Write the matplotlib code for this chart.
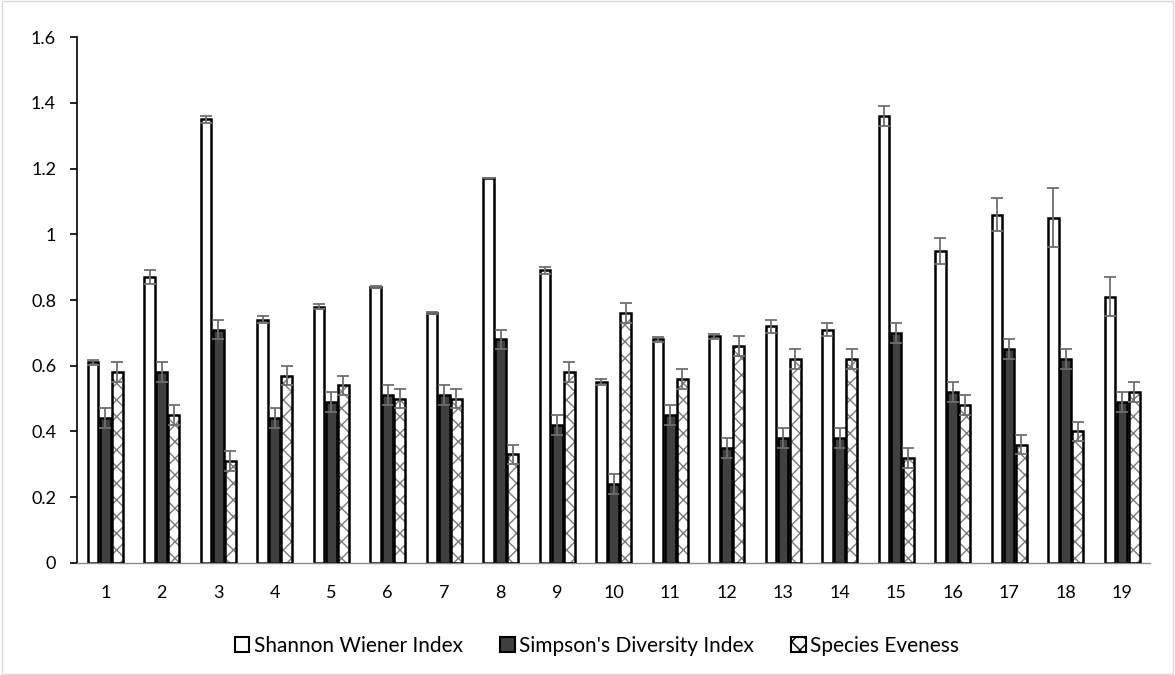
import numpy as np
import matplotlib.pyplot as plt
from matplotlib.patches import Patch, Rectangle

# ======================================================
# Data
# ======================================================

sites = [str(i) for i in range(1, 20)]

shannon = [0.61, 0.87, 1.35, 0.74, 0.78, 0.84, 0.76, 1.17, 0.89, 0.55,
           0.68, 0.69, 0.72, 0.71, 1.36, 0.95, 1.06, 1.05, 0.81]
shannonErr = [0.007, 0.02, 0.01, 0.01, 0.008, 0.004, 0.004, 0.0, 0.01, 0.01,
              0.008, 0.008, 0.02, 0.02, 0.03, 0.04, 0.05, 0.09, 0.06]

simpson = [0.44, 0.58, 0.71, 0.44, 0.49, 0.51, 0.51, 0.68, 0.42, 0.24,
           0.45, 0.35, 0.38, 0.38, 0.70, 0.52, 0.65, 0.62, 0.49]
simpsonErr = [0.03] * 19

evenness = [0.58, 0.45, 0.31, 0.57, 0.54, 0.50, 0.50, 0.33, 0.58, 0.76,
            0.56, 0.66, 0.62, 0.62, 0.32, 0.48, 0.36, 0.40, 0.52]
evennessErr = [0.03] * 19

yTicks = [0, 0.2, 0.4, 0.6, 0.8, 1, 1.2, 1.4, 1.6]
yTickLabels = ["0", "0.2", "0.4", "0.6", "0.8", "1", "1.2", "1.4", "1.6"]

labels = ["Shannon Wiener Index", "Simpson's Diversity Index", "Species Eveness"]


# ======================================================
# Figure
# ======================================================

plt.rcParams['font.family'] = ['Lato', 'DejaVu Sans']
plt.rcParams['hatch.linewidth'] = 1.0

fig = plt.figure(figsize=(11.75, 6.75), dpi=100)
ax = fig.add_axes([0.0655, 0.166, 0.9135, 0.779])

x = np.arange(len(sites))
w = 0.19
step = 0.215
errKw = dict(ecolor="#6e6e6e", elinewidth=1.3, capsize=4.5, capthick=1.3)

ax.bar(x - step, shannon, w, color="white", edgecolor="black", linewidth=1.8,
       yerr=shannonErr, error_kw=errKw, zorder=2)

ax.bar(x, simpson, w, color="#404040", edgecolor="black", linewidth=1.8,
       yerr=simpsonErr, error_kw=errKw, zorder=2)

# hatch drawn in grey first, black outline on top
ax.bar(x + step, evenness, w, color="white", edgecolor="#7a7a7a", linewidth=0,
       hatch="xx", zorder=2)
ax.bar(x + step, evenness, w, color="none", edgecolor="black", linewidth=1.8,
       yerr=evennessErr, error_kw=errKw, zorder=3)

ax.set_ylim(0, 1.6)
ax.set_xlim(-0.5, len(sites) - 0.5)
ax.set_yticks(yTicks)
ax.set_yticklabels(yTickLabels, fontsize=13)
ax.set_xticks(x)
ax.set_xticklabels(sites, fontsize=13)
ax.tick_params(axis="x", length=0, pad=16)
ax.tick_params(axis="y", length=5, width=1.2, pad=10)

for s in ["top", "right"]:
    ax.spines[s].set_visible(False)
ax.spines["left"].set_linewidth(1.2)
ax.spines["bottom"].set_color("#8c8c8c")
ax.spines["bottom"].set_linewidth(1.0)


# ======================================================
# Legend
# ======================================================

handles = [
    Patch(facecolor="white", edgecolor="black", linewidth=1.5),
    Patch(facecolor="#404040", edgecolor="black", linewidth=1.5),
    Patch(facecolor="white", edgecolor="black", linewidth=1.5, hatch="xx"),
]
fig.legend(handles, labels, loc="center", bbox_to_anchor=(0.508, 0.043), ncol=3,
           frameon=False, fontsize=15, handlelength=0.7, handleheight=0.7,
           handletextpad=0.2, columnspacing=1.8)

fig.patches.append(Rectangle((0.002, 0.002), 0.996, 0.996, transform=fig.transFigure,
                             fill=False, edgecolor="#d9d9d9", linewidth=1))

fig.savefig("out.png", dpi=100)
